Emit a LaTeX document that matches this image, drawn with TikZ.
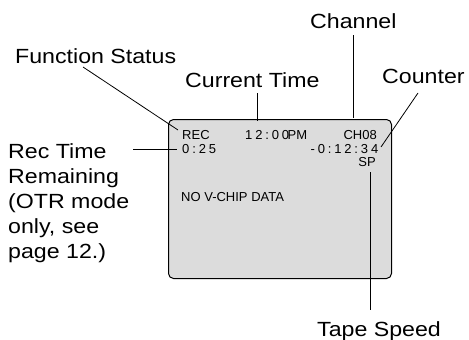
\documentclass[tikz,border=0pt]{standalone}
\usepackage{fontspec}
\setmainfont{Liberation Sans}
\newfontfamily\lcdwide[LetterSpace=22]{Liberation Sans}
\definecolor{screen}{HTML}{DCDCDC}
\newcommand\lbl[1]{\scalebox{1.13}[1]{#1}}
\tikzset{
  label text/.style={inner sep=0pt, font=\fontsize{20.5}{25}\selectfont, anchor=base west},
  lcd text/.style={inner sep=0pt, font=\fontsize{13}{15}\selectfont},
  leader/.style={line width=0.8pt, black},
  screenbox/.style={draw=black, line width=1pt, fill=screen, rounded corners=5pt}
}
\begin{document}
\begin{tikzpicture}[x=1pt,y=-1pt]
\useasboundingbox (0,0) rectangle (469,340);
% screen
\node[screenbox, inner sep=0pt, minimum width=223pt, minimum height=159pt, anchor=north west] (scr) at (168,119) {};
% screen contents
\node[lcd text, anchor=base west] (rec) at (182,139) {REC};
\node[lcd text, anchor=base west] (time) at (245,139) {{\lcdwide 12:00}\kern-1.5pt PM};
\node[lcd text, anchor=base east] (ch) at (377,139) {CH08};
\node[lcd text, anchor=base west] (remain) at (182,153) {\lcdwide 0:25};
\node[lcd text, anchor=base east] (count) at (378.5,153) {\lcdwide -0:12:34};
\node[lcd text, anchor=base east] (sp) at (376,166) {SP};
\node[lcd text, anchor=base west] (vchip) at (181,201) {NO V-CHIP DATA};
% labels
\node[label text] (lfs) at (15,63) {\lbl{Function Status}};
\node[label text] (lct) at (185,87) {\lbl{Current Time}};
\node[label text] (lch) at (310,28) {\lbl{Channel}};
\node[label text] (lco) at (382,83) {\lbl{Counter}};
\node[label text] (lrt1) at (8,158) {\lbl{Rec Time}};
\node[label text] (lrt2) at (8,183) {\lbl{Remaining}};
\node[label text] (lrt3) at (8,208) {\lbl{(OTR mode}};
\node[label text] (lrt4) at (8,233) {\lbl{only, see}};
\node[label text] (lrt5) at (8,258) {\lbl{page 12.)}};
\node[label text] (lts) at (317,336) {\lbl{Tape Speed}};
% leader end points
\coordinate (fsA) at (83,67);   \coordinate (fsB) at (178,130);
\coordinate (ctA) at (257,93);  \coordinate (ctB) at (257,121);
\coordinate (chA) at (353,35);  \coordinate (chB) at (353,118);
\coordinate (coA) at (418,93);  \coordinate (coB) at (381,147);
\coordinate (rtA) at (133,149); \coordinate (rtB) at (177,149);
\coordinate (tsA) at (370,172); \coordinate (tsB) at (370,310);
\draw[leader] (fsA) -- (fsB);
\draw[leader] (ctA) -- (ctB);
\draw[leader] (chA) -- (chB);
\draw[leader] (coA) -- (coB);
\draw[leader] (rtA) -- (rtB);
\draw[leader] (tsA) -- (tsB);
\end{tikzpicture}
\end{document}
